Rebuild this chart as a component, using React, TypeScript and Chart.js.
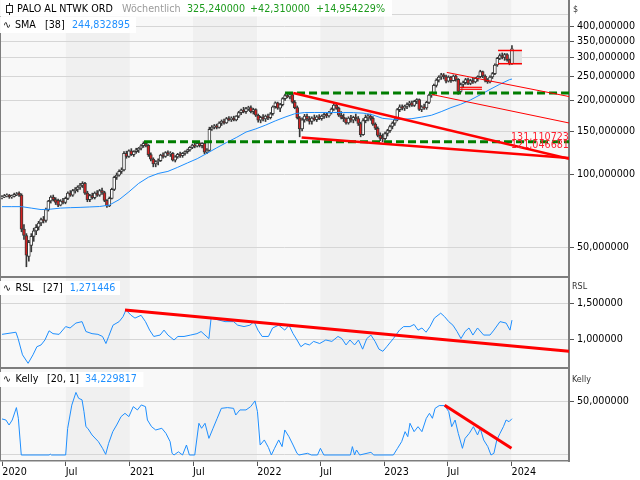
import React, { useEffect, useRef } from 'react';
import { Chart, registerables } from 'chart.js';

Chart.register(...registerables);

const FONT = '"DejaVu Sans", Verdana, sans-serif';
const FS = 9.6;

// ---- x axis (weeks since first week of 2020) ----
const X_MIN = -0.41;
const X_MAX = 232.38;
const xTickWeeks = [0.14, 26.14, 52.43, 78.29, 104.57, 130.43, 156.71, 182.57, 208.86];
const xTickLabels = ['2020', 'Jul', '2021', 'Jul', '2022', 'Jul', '2023', 'Jul', '2024'];

// ---- y axis ticks ----
const priceTicks = [50, 100, 150, 200, 250, 300, 350, 400, 450];
const priceTickLabels = ['50,000000', '100,000000', '150,000000', '200,000000', '250,000000', '300,000000', '350,000000', '400,000000', ''];
const rslTicks = [1.0, 1.5];
const rslTickLabels = ['1,000000', '1,500000'];
const kellyTicks = [0, 50];
const kellyTickLabels = ['', '50,000000'];

// ---- weekly candles ----
const candleOpen = [80,80.5,81.5,82,80.5,81,82.5,83.5,82,59.5,56,46,51,55.5,58.5,60.5,63,65,64.5,71.5,77.5,80.5,78.5,78,74.5,77.5,76.5,79.5,83.5,82,85.5,86.5,88.5,90,91.5,83.5,78.5,81.5,80,83.5,82,85.5,84,78,74,79.5,86.5,97,99,102.5,104,121.5,118,124.5,120,123.5,125.5,127.5,130.5,133.5,131,120,115,110,112.5,113.5,119.5,118,122.5,120.5,121.5,114,117.5,120.5,119,121.5,123.5,125.5,128.5,131.5,130,133.5,130.5,133.5,123,125,152.5,155.5,157.5,155,161.5,164.5,162,168.5,167,169.5,166.5,172.5,178.5,182.5,180,185.5,187,180,183.5,174,166,170.5,168,172.5,170,176.5,188.5,195.5,186,192.5,203.5,209.5,207,211.5,197,187,170,153,166.5,172.5,168,164,169.5,167,171.5,168.5,172.5,175.5,173,178.5,184.5,191.5,186,174,170.5,168.5,162,169.5,166,170.5,168.5,161,145,165.5,170.5,172.5,169,160,154,144,140,139.5,146.5,150.5,156.5,161.5,166.5,183.5,188.5,186,189.5,192.5,195.5,191,198.5,201.5,184,188.5,186.5,196.5,210.5,213.5,230.5,242.5,249.5,254.5,250.5,240,249.5,241,251.5,244,218,232.5,236.5,243.5,235,241.5,238,246.5,250.5,262.5,252,242,238.5,249.5,257.5,279.5,297.5,305.5,300,308.5,294,282.93];
const candleHigh = [81.5,82.5,83,82.5,82,83.5,84,84.5,83,62,57,53.5,57,60,62,64,66,67,72.5,78,81.5,82,80,79,78.5,79.5,80.5,84.5,85.5,86.5,88,89.5,91.5,93,92.5,85,82.5,83.5,84.5,85.5,86.5,87.5,85,78.5,80.5,87.5,98,101,104,106,123.5,124,125.5,127,124.5,127.5,128.5,132,135.5,135,132,122,116.5,113.5,115.5,120.5,122,123.5,124.5,123.5,122.5,119,121.5,123,122.5,124.5,126.5,129.5,132.5,134,135.5,135,134.5,134.5,127,155.5,158,159.5,160,163.5,166.5,168,170.5,172,171.5,172.5,173.5,180.5,184.5,187.5,187.5,189.5,190,186,185,176,172.5,175,174.5,176,178.5,190,197.5,197,194.5,205.5,212.5,216,214,213,200,190,172,170,175.5,176,172,171.5,174.5,173.5,175,174.5,178,178,180.5,186.5,195,194,188,180,176,170,171.5,174,172.5,176,172,163,168.5,174.5,176,176,172,162,156,147.5,146,148.5,152.5,158.5,163.5,168.5,185.5,192,192,191.5,195.5,198.5,199,200.5,203.5,203,190.5,193.5,198.5,212.5,216.5,233.5,245.5,252.5,258.5,258,254,252.5,251,254.5,254,246,236,240,246.5,247,244.5,247,248.5,252.5,266,264,255,246,252.5,260.5,282.5,300.5,310.5,313,312,311,296,336];
const candleLow = [79,80,80.5,79.5,79.5,80.5,81.5,81,58,54,41.7,44,48,53,56.5,59,61.5,63,63.5,70.5,76,77.5,75,73.5,74,75.5,75.5,78.5,81,81,83.5,84.5,86.5,88,82.5,77,77,79,79,81,81,82.5,77,73,73.5,79,85.5,95,98,100.5,103,116,117,119,118,121.5,122.5,125.5,128.5,129,118,113,107,107,109,112.5,116,117,119,118,113,112,116,117,117,119.5,121.5,124,127,128,129,129,128,121,121,124,151,153,153,154,158,160,161,165,164,165,165,170,175,178,177,182,178,176,172,163,162,165,164,167,168,174,186,184,180,190,200,205,203,195,185,168,142,150,163,165,160,160,165,164,167,166,169,170,171,176,182,184,172,168,164,160,160,163,162,165,158,142,144,162,165,166,158,152,142,137,135.5,138,143,148,153,158,165,180,183,182,185,188,189,189,194,182,180,184,184,194,206,211,227,238,244,245,236,238,237,240,240,212,216,226,233,232,232,235,236,240,248,248,238,235,236,246,255,276,294,296,292,290,280,281];
const candleClose = [80.5,81.5,82,80.5,81,82.5,83,82,59.5,56,46.5,52.5,55.5,58.5,60.5,63,65,64.5,71.5,77.5,80.5,78.5,76.5,74.5,77.5,76.5,79.5,83.5,82,85.5,86.5,88.5,90,91.5,83.5,78.5,81.5,80,83.5,82,85.5,84,78,74,79.5,86.5,97,99,102.5,104,121.5,118,124.5,120,123.5,125.5,127.5,130.5,133.5,131,120,115,110,112.5,113.5,119.5,118,122.5,120.5,121.5,114,117.5,120.5,119,121.5,123.5,125.5,128.5,131.5,130,133.5,130.5,133.5,123,125,152.5,155.5,157.5,155,161.5,164.5,162,168.5,167,169.5,166.5,172.5,178.5,182.5,180,185.5,187,180,183.5,174,166,170.5,168,172.5,170,176.5,188.5,195.5,186,192.5,203.5,209.5,207,211.5,197,187,170,153,166.5,172.5,168,164,169.5,167,171.5,168.5,172.5,175.5,173,178.5,184.5,191.5,186,174,170.5,168.5,162,169.5,166,170.5,168.5,161,145,165.5,170.5,172.5,169,160,154,144,140,139.5,146.5,150.5,156.5,161.5,166.5,183.5,188.5,186,189.5,192.5,195.5,191,198.5,201.5,184,188.5,186.5,196.5,210.5,213.5,230.5,242.5,249.5,254.5,250.5,240,249.5,241,251.5,244,218,232.5,236.5,243.5,235,241.5,238,246.5,250.5,262.5,252,242,238.5,249.5,257.5,279.5,297.5,305.5,300,308.5,294,282.93,325.24];

// ---- SMA 38 ----
const smaWeeks = [0,4,8,12,16,20,24,28,32,36,40,44,48,52,56,60,64,68,72,76,80,84,88,92,96,100,104,108,112,116,120,124,128,132,136,140,144,148,152,156,160,164,168,172,176,180,184,188,192,196,200,204,208,209];
const smaValues = [73.5,73.5,73.5,72.5,71.5,71.8,72.5,72.8,73,73.3,73.6,74.6,78.5,84.5,91.5,97,100.5,102.5,106.5,111,115.5,121.5,128,134.5,141,148.5,153,158.5,165,171,176.5,178.5,178.6,178.6,178.6,178.6,178.4,177.5,174.5,169,167.5,167.5,168.5,171,174,180,187,193,201,211,222,233,243.5,244.83];

// ---- RSL 27 ----
const rslWeeks = [0,5.7,6.6,8.4,10.7,12.7,14.3,16,17.6,19.3,20.9,23.4,26.1,27.9,30.3,32.8,34.4,36.9,39.3,41.2,42.6,43.7,45.5,48,49.6,50.8,52.9,54.5,57,58.8,60.5,62.2,64.8,66.4,68,70.5,72.1,74.6,77.3,79.9,81.6,83.2,84.8,85.7,88.1,91.4,94.9,96.6,99.2,101.6,103.3,104.9,106.6,109.2,110.9,113.4,115.9,117.6,119.3,120.9,122.5,124.2,126,127.7,130.2,132.7,135.2,137.7,139.3,141,142.6,144.5,146.1,147.8,149.5,151.2,152.9,154.5,156.1,157.8,160.4,162.9,164.6,167.2,168.9,170.5,172.1,173.8,175.4,177.2,179.8,181.4,183.1,184.8,186.5,188.1,189.8,191.4,193,194.9,197.4,200,201.6,204.1,206.6,208.2,209];
const rslValues = [1.07,1.1,1.01,0.78,0.66,0.78,0.895,0.92,0.99,1.12,1.08,1.07,1.18,1.16,1.23,1.25,1.11,1.08,1.07,1.04,0.94,1.04,1.2,1.25,1.32,1.415,1.34,1.3,1.34,1.25,1.13,1.04,1.06,1.13,1.06,0.99,1.04,1.04,1.06,1.08,1.11,1.06,1.01,1.3,1.28,1.25,1.25,1.2,1.18,1.2,1.25,1.13,1.04,1.04,1.16,1.2,1.13,1.2,1.08,0.99,0.895,0.94,0.92,0.97,0.94,0.99,0.97,1.04,1.01,0.92,0.99,0.92,0.99,0.86,1.01,1.06,0.97,0.86,0.83,0.9,1.01,1.13,1.18,1.18,1.21,1.13,1.16,1.1,1.18,1.3,1.37,1.32,1.25,1.2,1.11,1.01,1.11,1.16,1.06,1.16,1.06,1.06,1.13,1.25,1.23,1.13,1.271446];

// ---- Kelly 20,1 ----
const kellyWeeks = [0,1.6,2.9,4.2,5.9,6.7,7.9,19.3,19.8,20.3,26.1,26.9,28.6,30.3,31.4,32.8,33.6,34.4,35.2,36.9,39.5,41.2,42.5,43.7,45.4,47,48.8,50.4,52,53.8,55.5,57.1,58.8,59.6,61.3,63,65.5,67.2,68.9,69.7,70.5,72.3,74,75.6,76.8,79,80.7,81.8,83.2,84.8,86.5,88.2,89.9,92.4,94.9,95.8,97.5,100,101.9,103.7,104.7,105.8,107.5,109.2,110.4,111.7,113.4,114.8,115.9,117.6,119.3,120.9,121.7,125.2,126.8,129.3,130.5,131.9,142.8,143.6,144.5,145.3,146.6,151.2,152.4,160.4,162.1,163.8,165.2,166.3,167.2,168.9,170.5,172.1,173.9,175.2,176.4,177.5,179.2,181.4,183.1,184.3,185.7,187,188.7,189.8,191.5,193.2,194.9,196,197.4,199.1,200.4,201.6,202.8,204.1,205.5,206.6,207.8,209];
const kellyValues = [34,33,28.3,33,44.7,34.6,0,0,0.8,0,0,25,47,59,53.5,52,40.9,26.7,25,18.9,12.6,6.3,0.6,11,22,28.3,36.2,39.3,36.2,45.6,42.5,47.2,45.6,33,26.7,23.6,25.2,20.4,12.6,1.6,0,3,0,9.4,0,0,29.9,25.2,29.9,15.7,25.2,34.6,44,44.7,44,37.7,42.5,42.5,45.6,51,40.9,9.4,14.2,7,0,6.3,14.2,7.9,23.6,17.3,9.4,1.6,0,1.6,0,0,6.3,0,0,7.9,0,4.7,0,2.5,0,0,6.3,12.6,22,17.3,29.9,22,26.7,22,34.6,39.3,34.6,44,46.6,46.6,40.9,26.7,33,20.4,6.3,15.7,20.4,26.7,18.9,25.2,14.2,7.9,0,1.6,14.2,20.4,26.7,33,31.4,34.229817];

// ---- drawn annotations (weeks / prices) ----
const resistanceWeeks = [116, 232.4];
const resistanceValues = [214.6, 214.6];
const supportWeeks = [58.2, 232.4];
const supportValues = [135.6, 135.6];
const channelTopWeeks = [119.4, 232.4];
const channelTopValues = [214.6, 115.4];
const channelBottomWeeks = [122.8, 232.4];
const channelBottomValues = [141.1, 116.2];
const thinUpperWeeks = [182.3, 232.4];
const thinUpperValues = [260.6, 207.6];
const thinLowerWeeks = [176.2, 232.4];
const thinLowerValues = [211.6, 161.8];
const rangeWeeks = [203.3, 213.1];
const rangeHighValue = 320.5;
const rangeLowValue = 282.93;
const rangeBoxWeeks = [208.2, 213.1];
const rangeBoxValues = [279.5, 322];
const augLinesWeeks = [187.7, 196.7];
const augLineValues = [226.5, 222.3];
const trendLabelTexts = ['131,110723', '121,046681'];
const trendLabelValues = [131.110723, 121.046681];
const rslTrendWeeks = [50.4, 232.4];
const rslTrendValues = [1.415, 0.83];
const kellyTrendWeeks = [181.4, 208.8];
const kellyTrendValues = [47, 6.3];

const LIGHT = '#f8f8f8';
const DARK = '#f0f0f0';
const BORDER = '#7d7d7d';
const GRID = '#d6d6d6';
const BLUE = '#1e8fff';
const RED = '#ff0000';
const GREEN = '#007d00';

const pts = (xs: number[], ys: number[]) => xs.map((x, i) => ({ x, y: ys[i] }));

const bandsPlugin = {
  id: 'bands',
  beforeDraw(chart: any) {
    const { ctx, chartArea: a, scales } = chart;
    const xs = scales.x;
    const edges = [X_MIN, ...xTickWeeks.slice(1), X_MAX];
    ctx.save();
    for (let k = 0; k < edges.length - 1; k++) {
      const x0 = xs.getPixelForValue(edges[k]);
      const x1 = xs.getPixelForValue(edges[k + 1]);
      ctx.fillStyle = k % 2 === 0 ? LIGHT : DARK;
      ctx.fillRect(x0, a.top, x1 - x0, a.bottom - a.top);
    }
    ctx.restore();
  },
};

type Seg = { t: string; x: number; c: string };
function drawHeader(ctx: any, box: number[], y: number, segs: Seg[]) {
  ctx.save();
  ctx.fillStyle = 'rgba(255,255,255,0.96)';
  ctx.fillRect(box[0], box[1], box[2], box[3]);
  ctx.font = `${FS}px ${FONT}`;
  ctx.textBaseline = 'middle';
  ctx.textAlign = 'left';
  segs.forEach((s) => {
    ctx.fillStyle = s.c;
    ctx.fillText(s.t, s.x, y);
  });
  ctx.restore();
}
function drawTitle(ctx: any, t: string, x: number, y: number) {
  ctx.save();
  ctx.font = `8px ${FONT}`;
  ctx.fillStyle = '#333';
  ctx.textBaseline = 'middle';
  ctx.fillText(t, x, y);
  ctx.restore();
}

const xScale = (show: boolean) => ({
  type: 'linear',
  min: X_MIN,
  max: X_MAX,
  offset: false,
  display: show,
  grid: { display: show, drawOnChartArea: false, drawTicks: true, tickLength: 5, tickColor: '#555' },
  border: { display: show, color: BORDER, width: 1.5 },
  ticks: {
    autoSkip: false,
    maxRotation: 0,
    align: 'start',
    padding: 1,
    color: '#000',
    font: { family: FONT, size: FS },
    callback: (_v: any, i: number) => xTickLabels[i],
  },
  afterBuildTicks: (s: any) => {
    s.ticks = xTickWeeks.map((v) => ({ value: v }));
  },
  afterFit: (s: any) => {
    if (show) s.height = 19;
    s.paddingLeft = 0;
    s.paddingRight = 0;
  },
});

const yScale = (type: string, min: number, max: number, ticks: number[], labels: string[]) => ({
  type,
  position: 'right',
  min,
  max,
  grid: {
    color: GRID,
    lineWidth: 1,
    drawTicks: true,
    tickLength: 5,
    tickColor: (c: any) => (labels[c.index] ? '#555' : 'rgba(0,0,0,0)'),
  },
  border: { display: true, color: BORDER, width: 2 },
  ticks: {
    autoSkip: false,
    padding: 3,
    color: '#000',
    font: { family: FONT, size: FS },
    callback: (_v: any, i: number) => labels[i],
  },
  afterBuildTicks: (s: any) => {
    s.ticks = ticks.map((v) => ({ value: v }));
  },
  afterFit: (s: any) => {
    s.width = 71;
    s.paddingTop = 0;
    s.paddingBottom = 0;
  },
});

const baseOptions = {
  responsive: false,
  maintainAspectRatio: false,
  animation: false,
  events: [],
  plugins: { legend: { display: false }, tooltip: { enabled: false } },
};

const lineDs = (data: any[], color: string, width: number, order: number, dash?: number[]) => ({
  type: 'line',
  data,
  borderColor: color,
  borderWidth: width,
  borderDash: dash || [],
  pointRadius: 0,
  tension: 0,
  fill: false,
  order,
});

function mainConfig(): any {
  const weeks = candleClose.map((_, i) => i);
  const wicks = weeks.map((i) => ({ x: i, y: [candleLow[i], candleHigh[i]] }));
  const bodies = weeks.map((i) => ({ x: i, y: [candleOpen[i], candleClose[i]] }));
  const bodyColors = weeks.map((i) => (candleClose[i] < candleOpen[i] ? '#d42222' : '#ffffff'));
  const mainPlugin = {
    id: 'mainDeco',
    beforeDatasetsDraw(chart: any) {
      const { ctx, scales } = chart;
      const xs = scales.x, ys = scales.y;
      const x0 = xs.getPixelForValue(rangeBoxWeeks[0]);
      const x1 = xs.getPixelForValue(rangeBoxWeeks[1]);
      const y0 = ys.getPixelForValue(rangeBoxValues[1]);
      const y1 = ys.getPixelForValue(rangeBoxValues[0]);
      ctx.save();
      ctx.fillStyle = '#e1e1e1';
      ctx.fillRect(x0, y0, x1 - x0, y1 - y0);
      ctx.restore();
    },
    afterDraw(chart: any) {
      const { ctx, chartArea: a, scales } = chart;
      const xs = scales.x, ys = scales.y;
      ctx.save();
      ctx.beginPath();
      ctx.rect(a.left, a.top, a.right - a.left, a.bottom - a.top);
      ctx.clip();
      ctx.font = `${FS}px ${FONT}`;
      ctx.fillStyle = '#ff1f2f';
      ctx.textBaseline = 'middle';
      trendLabelTexts.forEach((t, k) => {
        ctx.fillText(t, xs.getPixelForValue(209) - 1, ys.getPixelForValue(trendLabelValues[k]) - 8);
      });
      ctx.restore();
      ctx.save();
      ctx.fillStyle = BORDER;
      ctx.fillRect(0, 0, 1, chart.height);
      ctx.fillRect(0, chart.height - 1, a.right + 1, 1);
      ctx.restore();
      drawHeader(ctx, [0, 0, 392, 16.5], 9, [
        { t: 'PALO AL NTWK ORD', x: 17, c: '#000' },
        { t: 'Wöchentlich', x: 122, c: '#9a9a9a' },
        { t: '325,240000', x: 187, c: '#1c9a1c' },
        { t: '+42,310000', x: 250, c: '#1c9a1c' },
        { t: '+14,954229%', x: 316, c: '#1c9a1c' },
      ]);
      // candle icon
      ctx.save();
      ctx.strokeStyle = '#222';
      ctx.lineWidth = 1;
      ctx.beginPath();
      ctx.moveTo(9.5, 3);
      ctx.lineTo(9.5, 15);
      ctx.stroke();
      ctx.fillStyle = '#fff';
      ctx.fillRect(6.5, 5.5, 6, 7);
      ctx.strokeRect(6.5, 5.5, 6, 7);
      ctx.restore();
      drawHeader(ctx, [0, 17, 136, 16], 25, [
        { t: '∿', x: 3, c: '#000' },
        { t: 'SMA', x: 15, c: '#000' },
        { t: '[38]', x: 45, c: '#000' },
        { t: '244,832895', x: 72, c: BLUE },
      ]);
      drawTitle(ctx, '$', 573, 10);
    },
  };
  return {
    type: 'bar',
    data: {
      datasets: [
        lineDs(pts(channelTopWeeks, channelTopValues), RED, 2.6, 0),
        lineDs(pts(channelBottomWeeks, channelBottomValues), RED, 2.6, 0),
        lineDs(pts(thinUpperWeeks, thinUpperValues), RED, 1, 0),
        lineDs(pts(thinLowerWeeks, thinLowerValues), RED, 1, 0),
        lineDs(pts(rangeWeeks, [rangeHighValue, rangeHighValue]), RED, 1.5, 0),
        lineDs(pts(rangeWeeks, [rangeLowValue, rangeLowValue]), RED, 1.5, 0),
        lineDs(pts(augLinesWeeks, [augLineValues[0], augLineValues[0]]), RED, 1.2, 0),
        lineDs(pts(augLinesWeeks, [augLineValues[1], augLineValues[1]]), RED, 1.2, 0),
        lineDs(pts(resistanceWeeks, resistanceValues), GREEN, 3, 0, [8, 4]),
        lineDs(pts(supportWeeks, supportValues), GREEN, 3, 0, [8, 4]),
        lineDs(pts(smaWeeks, smaValues), BLUE, 1, 1),
        {
          type: 'bar',
          data: bodies,
          backgroundColor: bodyColors,
          borderColor: '#383838',
          borderWidth: 1,
          borderSkipped: false,
          barThickness: 3,
          grouped: false,
          order: 2,
        },
        {
          type: 'bar',
          data: wicks,
          backgroundColor: '#383838',
          borderWidth: 0,
          barThickness: 1,
          grouped: false,
          order: 3,
        },
      ],
    },
    options: {
      ...baseOptions,
      layout: { padding: { left: 1, top: 0, right: 0, bottom: 1 } },
      scales: {
        x: xScale(false),
        y: yScale('logarithmic', 38.22, 515.9, priceTicks, priceTickLabels),
      },
    },
    plugins: [bandsPlugin, mainPlugin],
  };
}

function rslConfig(): any {
  const deco = {
    id: 'rslDeco',
    afterDraw(chart: any) {
      const { ctx, chartArea: a } = chart;
      ctx.save();
      ctx.fillStyle = BORDER;
      ctx.fillRect(0, 0, 1, chart.height);
      ctx.fillRect(0, 0, a.right + 1, 1);
      ctx.fillRect(0, chart.height - 1, a.right + 1, 1);
      ctx.restore();
      drawHeader(ctx, [0, 4, 120, 14], 11, [
        { t: '∿', x: 3, c: '#000' },
        { t: 'RSL', x: 15.6, c: '#000' },
        { t: '[27]', x: 43, c: '#000' },
        { t: '1,271446', x: 69.7, c: BLUE },
      ]);
      drawTitle(ctx, 'RSL', 572, 10);
    },
  };
  return {
    type: 'line',
    data: {
      datasets: [
        lineDs(pts(rslTrendWeeks, rslTrendValues), RED, 3, 0),
        lineDs(pts(rslWeeks, rslValues), BLUE, 1, 1),
      ],
    },
    options: {
      ...baseOptions,
      layout: { padding: { left: 1, top: 1, right: 0, bottom: 1 } },
      scales: {
        x: xScale(false),
        y: yScale('linear', 0.6076, 1.868, rslTicks, rslTickLabels),
      },
    },
    plugins: [bandsPlugin, deco],
  };
}

function kellyConfig(): any {
  const deco = {
    id: 'kellyDeco',
    afterDraw(chart: any) {
      const { ctx, chartArea: a } = chart;
      ctx.save();
      ctx.fillStyle = BORDER;
      ctx.fillRect(0, 0, 1, a.bottom);
      ctx.fillRect(0, 0, a.right + 1, 1);
      ctx.restore();
      drawHeader(ctx, [0, 4, 143.5, 15], 11.5, [
        { t: '∿', x: 3, c: '#000' },
        { t: 'Kelly', x: 15.6, c: '#000' },
        { t: '[20, 1]', x: 47, c: '#000' },
        { t: '34,229817', x: 85, c: BLUE },
      ]);
      drawTitle(ctx, 'Kelly', 572, 11.5);
    },
  };
  return {
    type: 'line',
    data: {
      datasets: [
        lineDs(pts(kellyTrendWeeks, kellyTrendValues), RED, 3, 0),
        lineDs(pts(kellyWeeks, kellyValues), BLUE, 1, 1),
      ],
    },
    options: {
      ...baseOptions,
      layout: { padding: { left: 1, top: 1, right: 0, bottom: 0 } },
      scales: {
        x: xScale(true),
        y: yScale('linear', -5.66, 81.1, kellyTicks, kellyTickLabels),
      },
    },
    plugins: [bandsPlugin, deco],
  };
}

export default function App() {
  const mainRef = useRef<HTMLCanvasElement>(null);
  const rslRef = useRef<HTMLCanvasElement>(null);
  const kellyRef = useRef<HTMLCanvasElement>(null);
  useEffect(() => {
    const charts = [
      new Chart(mainRef.current as HTMLCanvasElement, mainConfig()),
      new Chart(rslRef.current as HTMLCanvasElement, rslConfig()),
      new Chart(kellyRef.current as HTMLCanvasElement, kellyConfig()),
    ];
    return () => charts.forEach((c) => c.destroy());
  }, []);
  return (
    <div style={{ position: 'fixed', left: 0, top: 0, width: 640, height: 480, background: '#fff', overflow: 'hidden' }}>
      <canvas ref={mainRef} width={640} height={277} style={{ position: 'absolute', left: 0, top: 0 }} />
      <canvas ref={rslRef} width={640} height={91} style={{ position: 'absolute', left: 0, top: 277 }} />
      <canvas ref={kellyRef} width={640} height={112} style={{ position: 'absolute', left: 0, top: 368 }} />
    </div>
  );
}
